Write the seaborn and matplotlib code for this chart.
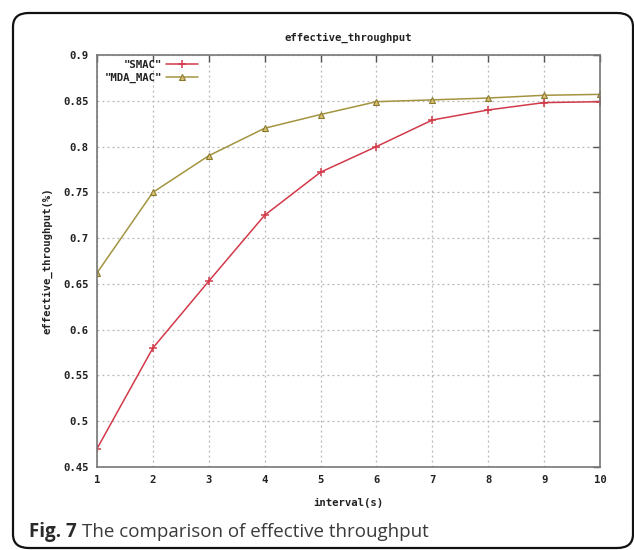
import matplotlib
matplotlib.use("Agg")
import matplotlib.pyplot as plt
import seaborn as sns
import pandas as pd
from matplotlib.patches import FancyBboxPatch

intervals = [1, 2, 3, 4, 5, 6, 7, 8, 9, 10]
smac = [0.47, 0.58, 0.653, 0.725, 0.772, 0.80, 0.829, 0.840, 0.848, 0.849]
mda_mac = [0.662, 0.75, 0.79, 0.82, 0.835, 0.849, 0.851, 0.853, 0.856, 0.857]
y_ticks = [0.45, 0.5, 0.55, 0.6, 0.65, 0.7, 0.75, 0.8, 0.85, 0.9]
y_tick_labels = ["0.45", "0.5", "0.55", "0.6", "0.65", "0.7", "0.75", "0.8", "0.85", "0.9"]

sns.set_style("white")
mono = ["DejaVu Sans Mono"]

df = pd.DataFrame({
    "interval": intervals * 2,
    "value": smac + mda_mac,
    "series": ['"SMAC"'] * len(intervals) + ['"MDA_MAC"'] * len(intervals),
})

W, H = 634, 550
L, R, T, B = 97, 600, 55, 467
fig = plt.figure(figsize=(W / 100, H / 100), dpi=100)
ax = fig.add_axes([L / W, 1 - B / H, (R - L) / W, (B - T) / H])

red = "#d23a4a"
olive = "#a39440"
sns.lineplot(data=df[df.series == '"SMAC"'], x="interval", y="value", ax=ax,
             color=red, lw=1.1, marker="+", markersize=6, markeredgewidth=1.1,
             markeredgecolor=red, label='"SMAC"')
sns.lineplot(data=df[df.series == '"MDA_MAC"'], x="interval", y="value", ax=ax,
             color=olive, lw=1.1, marker="^", markersize=5, markerfacecolor="#d8c070",
             markeredgecolor="#8a7a30", markeredgewidth=0.8, label='"MDA_MAC"')

fs = 7.7
ax.set_xlim(1, 10)
ax.set_ylim(0.45, 0.9)
ax.set_xticks(intervals)
ax.set_xticklabels([str(i) for i in intervals], family=mono, fontweight="bold", fontsize=fs, color="#222222")
ax.set_yticks(y_ticks)
ax.set_yticklabels(y_tick_labels, family=mono, fontweight="bold", fontsize=fs, color="#222222")
ax.tick_params(direction="in", length=5, width=1, color="#555555", top=True, right=True, pad=6)
ax.grid(True, ls=(0, (1.5, 2.5)), color="#b5b5b5", lw=0.9)
for s in ax.spines.values():
    s.set_color("#777777")
    s.set_linewidth(1.2)

ax.set_xlabel("interval(s)", family=mono, fontweight="bold", fontsize=fs, color="#222222", labelpad=9)
ax.set_ylabel("effective_throughput(%)", family=mono, fontweight="bold", fontsize=fs, color="#222222", labelpad=8)
ax.set_title("effective_throughput", family=mono, fontweight="bold", fontsize=fs, color="#222222", pad=10)

leg = ax.legend(loc="upper right", frameon=False, markerfirst=False, handlelength=3.0,
                prop={"family": mono, "weight": "bold", "size": fs},
                borderaxespad=0, borderpad=0, labelspacing=0.25, handletextpad=0.4,
                bbox_to_anchor=((198 - L) / (R - L), (B - 60) / (B - T)))
for t in leg.get_texts():
    t.set_color("#222222")

box = FancyBboxPatch((13 / W, 2 / H), (633 - 13) / W, (537 - 2) / H,
                     boxstyle="round,pad=0,rounding_size=0.025", transform=fig.transFigure,
                     fill=False, edgecolor="#111111", lw=1.6, zorder=-1)
fig.patches.append(box)

cy = 1 - 532 / H
t1 = fig.text(29 / W, cy, "Fig. 7", family="Open Sans", fontweight="bold", fontsize=13.5,
              color="#2a2a2a", va="center", ha="left")
renderer = fig.canvas.get_renderer()
x2 = t1.get_window_extent(renderer).x1 + 5
fig.text(x2 / W, cy, "The comparison of effective throughput", family="Open Sans",
         fontsize=13.5, color="#3a3a3a", va="center", ha="left")

fig.savefig("out.png", dpi=100)
